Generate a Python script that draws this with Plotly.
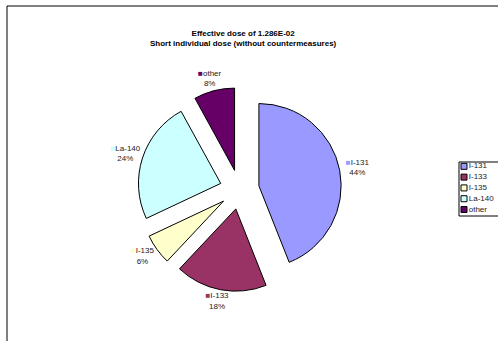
import math
import plotly.graph_objects as go

labels = ["I-131", "I-133", "I-135", "La-140", "other"]
values = [44, 18, 6, 24, 8]
colors = ["#9999FF", "#993366", "#FFFFCC", "#CCFFFF", "#660066"]
title_lines = ["Effective dose of 1.286E-02", "Short individual dose (without countermeasures)"]

W, H = 498, 341
FONT = "Liberation Sans, Arial, sans-serif"
CX, CY, HALF = 239.5, 189.5, 102
PULL = 0.24

fig = go.Figure()
fig.add_trace(go.Pie(
    labels=labels, values=values, sort=False, direction="clockwise", rotation=0,
    marker=dict(colors=colors, line=dict(color="black", width=1)),
    pull=[PULL] * len(values),
    textinfo="none",
    domain=dict(x=[(CX - HALF) / W, (CX + HALF) / W], y=[(H - CY - HALF) / H, (H - CY + HALF) / H]),
    showlegend=False, hoverinfo="label+percent",
))

# data labels outside each slice, placed along each slice's mid-angle
total = sum(values)
R = HALF / (1 + PULL)
dist = R * (1 + PULL) + 6
lab_x, lab_y, lab_t = [], [], []
cum = 0
for lab, v, c in zip(labels, values, colors):
    mid = (cum + v / 2) / total * 2 * math.pi
    cum += v
    dx, dy = math.sin(mid), -math.cos(mid)
    lab_x.append(CX + dist * dx + dx * 12)
    lab_y.append(CY + dist * dy + dy * 6)
    lab_t.append(f'<span style="color:{c}">■</span>{lab}<br>{round(100 * v / total)}%')
fig.add_trace(go.Scatter(
    x=lab_x, y=lab_y, mode="text", text=lab_t, textposition="middle center",
    textfont=dict(family=FONT, size=8, color="#222222"),
    xaxis="x3", yaxis="y3", showlegend=False, hoverinfo="skip", cliponaxis=False,
))

# legend built as a small scatter
fig.add_trace(go.Scatter(
    x=[0] * len(labels), y=list(range(len(labels))), mode="markers+text",
    marker=dict(symbol="square", size=6, color=colors, line=dict(color="black", width=1)),
    text=labels, textposition="middle right",
    textfont=dict(family=FONT, size=8, color="#222222"),
    xaxis="x2", yaxis="y2", showlegend=False, hoverinfo="skip", cliponaxis=False,
))

ly0, ly1 = 1 - 216 / H, 1 - 162 / H
lx0 = 459 / W
bx, by = 7 / W, 1 - 6 / H
fig.update_layout(
    width=W, height=H, margin=dict(l=0, r=0, t=0, b=0),
    paper_bgcolor="white", plot_bgcolor="rgba(0,0,0,0)", showlegend=False,
    xaxis2=dict(domain=[lx0, 1], range=[-5, 34], visible=False, fixedrange=True),
    yaxis2=dict(domain=[ly0, ly1], range=[4.6, -0.4], visible=False, fixedrange=True),
    xaxis3=dict(domain=[0, 1], range=[0, W], visible=False, fixedrange=True),
    yaxis3=dict(domain=[0, 1], range=[H, 0], visible=False, fixedrange=True),
    xaxis=dict(visible=False), yaxis=dict(visible=False),
    annotations=[dict(
        text="<b>" + "<br>".join(title_lines) + "</b>", x=243 / W, y=1 - 38 / H,
        xref="paper", yref="paper", xanchor="center", yanchor="middle", showarrow=False,
        font=dict(family=FONT, size=8, color="black"),
    )],
    shapes=[
        dict(type="path", xref="paper", yref="paper",
             path=f"M {bx},0 L {bx},{by} L 1,{by}", line=dict(color="black", width=1)),
        dict(type="path", xref="paper", yref="paper",
             path=f"M 1,{ly1} L {lx0},{ly1} L {lx0},{ly0} L 1,{ly0}", line=dict(color="black", width=1)),
    ],
)

fig.write_html("out.html")
